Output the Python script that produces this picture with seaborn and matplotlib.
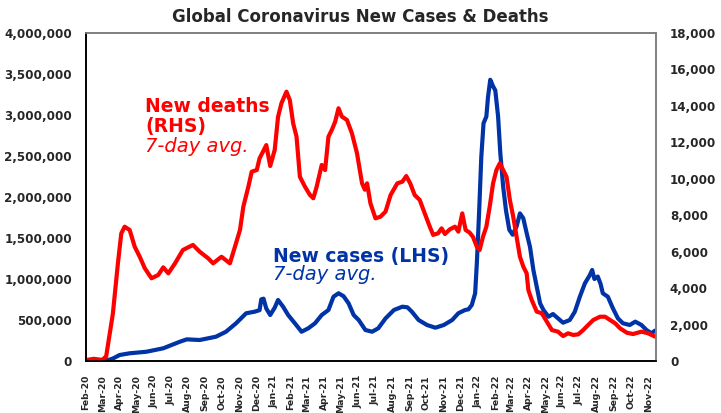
import pandas as pd
import numpy as np
import matplotlib
matplotlib.use("Agg")
import matplotlib.pyplot as plt
import matplotlib.dates as mdates
import matplotlib.ticker as mticker
import seaborn as sns

# 7-day average new deaths (right axis)
death_dates = ["2020-02-01", "2020-02-15", "2020-03-01", "2020-03-08", "2020-03-20", "2020-03-29",
               "2020-04-04", "2020-04-10", "2020-04-19", "2020-04-28", "2020-05-07", "2020-05-16",
               "2020-05-28", "2020-06-09", "2020-06-18", "2020-06-27", "2020-07-09", "2020-07-23",
               "2020-08-10", "2020-08-22", "2020-09-06", "2020-09-15", "2020-09-30", "2020-10-15",
               "2020-10-24", "2020-11-02", "2020-11-08", "2020-11-17", "2020-11-23", "2020-12-02",
               "2020-12-07", "2020-12-19", "2020-12-26", "2021-01-03", "2021-01-09", "2021-01-15",
               "2021-01-24", "2021-01-30", "2021-02-05", "2021-02-11", "2021-02-17", "2021-02-26",
               "2021-03-07", "2021-03-13", "2021-03-19", "2021-03-28", "2021-04-03", "2021-04-09",
               "2021-04-15", "2021-04-21", "2021-04-27", "2021-05-03", "2021-05-12", "2021-05-21",
               "2021-05-30", "2021-06-08", "2021-06-13", "2021-06-17", "2021-06-23", "2021-07-02",
               "2021-07-11", "2021-07-20", "2021-07-29", "2021-08-10", "2021-08-19", "2021-08-26",
               "2021-09-02", "2021-09-10", "2021-09-19", "2021-09-28", "2021-10-07", "2021-10-13",
               "2021-10-22", "2021-10-28", "2021-11-03", "2021-11-12", "2021-11-21", "2021-11-27",
               "2021-12-04", "2021-12-10", "2021-12-17", "2021-12-23", "2021-12-30", "2022-01-04",
               "2022-01-10", "2022-01-16", "2022-01-22", "2022-01-28", "2022-02-03", "2022-02-09",
               "2022-02-15", "2022-02-21", "2022-02-27", "2022-03-05", "2022-03-11", "2022-03-17",
               "2022-03-23", "2022-03-29", "2022-04-01", "2022-04-07", "2022-04-16", "2022-04-25",
               "2022-05-04", "2022-05-13", "2022-05-24", "2022-06-02", "2022-06-11", "2022-06-20",
               "2022-06-29", "2022-07-08", "2022-07-17", "2022-07-26", "2022-08-07", "2022-08-16",
               "2022-08-25", "2022-09-03", "2022-09-12", "2022-09-24", "2022-10-05", "2022-10-20",
               "2022-11-01", "2022-11-13"]
death_values = [50, 120, 60, 250, 2600, 5360,
                7000, 7370, 7190, 6270, 5720, 5090,
                4540, 4720, 5140, 4810, 5360, 6090,
                6370, 6000, 5640, 5360, 5720, 5360,
                6270, 7190, 8470, 9570, 10390, 10480,
                11120, 11850, 10700, 11580, 13400, 14140,
                14780, 14320, 13040, 12310, 10110, 9570,
                9110, 8930, 9570, 10760, 10480, 12310,
                12680, 13130, 13870, 13410, 13230, 12490,
                11400, 9750, 9400, 9750, 8650, 7830,
                7920, 8200, 9110, 9750, 9840, 10150,
                9750, 9110, 8840, 8100, 7370, 6920,
                7010, 7280, 6970, 7230, 7370, 7100,
                8100, 7190, 7050, 6820, 6270, 6090,
                6820, 7370, 8470, 9750, 10480, 10850,
                10480, 10110, 8840, 7920, 6820, 5720,
                5180, 4810, 3900, 3350, 2710, 2620,
                2160, 1700, 1610, 1370, 1520, 1430,
                1460, 1700, 1980, 2250, 2430, 2430,
                2250, 2070, 1790, 1550, 1480, 1610,
                1520, 1340]

# 7-day average new cases (left axis)
case_dates = ["2020-02-01", "2020-03-01", "2020-03-10", "2020-03-20", "2020-04-01", "2020-04-19",
              "2020-05-19", "2020-06-18", "2020-07-18", "2020-07-30", "2020-08-22", "2020-09-20",
              "2020-10-08", "2020-10-26", "2020-11-13", "2020-11-28", "2020-12-07", "2020-12-10",
              "2020-12-14", "2020-12-19", "2020-12-26", "2021-01-03", "2021-01-09", "2021-01-18",
              "2021-01-27", "2021-02-08", "2021-02-20", "2021-03-04", "2021-03-16", "2021-03-28",
              "2021-04-09", "2021-04-18", "2021-04-27", "2021-05-06", "2021-05-15", "2021-05-24",
              "2021-06-02", "2021-06-14", "2021-06-26", "2021-07-07", "2021-07-20", "2021-08-04",
              "2021-08-19", "2021-08-28", "2021-09-05", "2021-09-17", "2021-10-02", "2021-10-17",
              "2021-11-01", "2021-11-16", "2021-11-27", "2021-12-09", "2021-12-15", "2021-12-21",
              "2021-12-27", "2021-12-30", "2022-01-03", "2022-01-07", "2022-01-11", "2022-01-16",
              "2022-01-19", "2022-01-23", "2022-01-28", "2022-02-01", "2022-02-06", "2022-02-10",
              "2022-02-15", "2022-02-20", "2022-02-26", "2022-03-04", "2022-03-11", "2022-03-17",
              "2022-03-23", "2022-03-29", "2022-04-04", "2022-04-10", "2022-04-16", "2022-04-22",
              "2022-04-28", "2022-05-07", "2022-05-15", "2022-05-24", "2022-06-02", "2022-06-14",
              "2022-06-23", "2022-07-02", "2022-07-11", "2022-07-20", "2022-07-24", "2022-07-28",
              "2022-08-03", "2022-08-08", "2022-08-12", "2022-08-21", "2022-08-30", "2022-09-08",
              "2022-09-17", "2022-09-29", "2022-10-09", "2022-10-20", "2022-10-29", "2022-11-07",
              "2022-11-13"]
case_values = [2000, 3000, 8000, 30000, 73000, 94000,
               113000, 155000, 236000, 264000, 256000, 296000,
               357000, 460000, 582000, 601000, 620000, 752000,
               760000, 640000, 561000, 650000, 744000, 662000,
               561000, 460000, 357000, 399000, 460000, 561000,
               622000, 784000, 826000, 790000, 703000, 561000,
               500000, 378000, 357000, 399000, 520000, 622000,
               662000, 655000, 601000, 500000, 439000, 406000,
               439000, 500000, 582000, 622000, 630000, 683000,
               826000, 1190000, 1800000, 2490000, 2900000, 2980000,
               3220000, 3430000, 3350000, 3300000, 2980000, 2530000,
               2130000, 1840000, 1600000, 1540000, 1640000, 1800000,
               1740000, 1560000, 1390000, 1110000, 906000, 703000,
               622000, 540000, 573000, 520000, 467000, 500000,
               601000, 784000, 947000, 1050000, 1110000, 1000000,
               1030000, 940000, 826000, 784000, 643000, 520000,
               460000, 439000, 480000, 439000, 378000, 338000,
               370000]

deaths = pd.DataFrame({"date": pd.to_datetime(death_dates), "deaths": death_values})
cases = pd.DataFrame({"date": pd.to_datetime(case_dates), "cases": case_values})

red = "#FF0000"
blue = "#0033A6"

sns.set_style("white")
plt.rcParams["font.family"] = ["DejaVu Sans"]

fig = plt.figure(figsize=(7.21, 4.13), dpi=100)
ax = fig.add_axes([86 / 721, 52 / 413, 570 / 721, 328 / 413])
ax2 = ax.twinx()

sns.lineplot(data=cases, x="date", y="cases", ax=ax, color=blue, linewidth=3)
sns.lineplot(data=deaths, x="date", y="deaths", ax=ax2, color=red, linewidth=3)

ax.set_xlim(pd.Timestamp("2020-02-01"), pd.Timestamp("2022-11-15"))
ax.set_ylim(0, 4000000)
ax2.set_ylim(0, 18000)
ax.set_yticks(np.arange(0, 4000001, 500000))
ax2.set_yticks(np.arange(0, 18001, 2000))
ax.yaxis.set_major_formatter(mticker.FuncFormatter(lambda v, p: f"{v:,.0f}"))
ax2.yaxis.set_major_formatter(mticker.FuncFormatter(lambda v, p: f"{v:,.0f}"))

ax.xaxis.set_major_locator(mdates.MonthLocator())
ax.xaxis.set_major_formatter(mdates.DateFormatter("%b-%y"))
for lab in ax.get_xticklabels():
    lab.set_rotation(90)
    lab.set_fontweight("bold")
    lab.set_fontsize(6.7)
ax.tick_params(axis="x", direction="out", length=4, width=1, color="black", pad=6)
ax.tick_params(axis="y", length=0, pad=10, labelsize=8.6)
ax2.tick_params(axis="y", length=0, pad=10, labelsize=8.6)
for lab in ax.get_yticklabels() + ax2.get_yticklabels():
    lab.set_fontweight("bold")

ax.set_xlabel("")
ax.set_ylabel("")
ax2.set_ylabel("")

for a in (ax, ax2):
    a.spines["left"].set_color("black")
    a.spines["bottom"].set_color("black")
    a.spines["top"].set_color("#808080")
    a.spines["right"].set_color("#808080")
    for s in a.spines.values():
        s.set_linewidth(1.2)

fig.text(360 / 721, 1 - 22 / 413, "Global Coronavirus New Cases & Deaths", ha="center",
         va="baseline", fontsize=12, fontweight="bold")

fig.text(145 / 721, 1 - 112.5 / 413, "New deaths", color=red, fontsize=13.5,
         fontweight="bold", ha="left", va="baseline")
fig.text(145 / 721, 1 - 132 / 413, "(RHS)", color=red, fontsize=13.5,
         fontweight="bold", ha="left", va="baseline")
fig.text(145 / 721, 1 - 152.5 / 413, "7-day avg.", color=red, fontsize=14,
         style="italic", ha="left", va="baseline")
fig.text(273 / 721, 1 - 262 / 413, "New cases (LHS)", color=blue, fontsize=13.5,
         fontweight="bold", ha="left", va="baseline")
fig.text(273 / 721, 1 - 280 / 413, "7-day avg.", color=blue, fontsize=14,
         style="italic", ha="left", va="baseline")

fig.savefig("out.png", dpi=100)
